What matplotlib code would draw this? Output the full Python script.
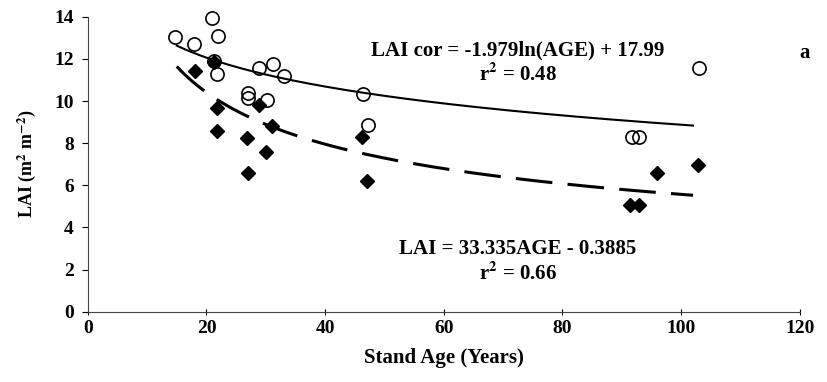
import numpy as np
import matplotlib
matplotlib.use("Agg")
import matplotlib.pyplot as plt

# LAI corrected (open circles)
AGE_COR = [14.7, 17.9, 20.9, 21.9, 21.8, 21.3, 27.0, 27.0, 28.8, 30.2,
           31.2, 33.1, 46.4, 47.3, 91.7, 92.9, 103.0]
LAI_COR = [13.05, 12.7, 13.95, 13.1, 11.3, 11.9, 10.38, 10.14, 11.57, 10.05,
           11.76, 11.19, 10.33, 8.86, 8.29, 8.29, 11.57]

# LAI (filled diamonds)
AGE_LAI = [18.0, 21.2, 21.8, 21.8, 26.8, 27.0, 28.8, 30.0, 31.0, 46.2,
           47.1, 91.4, 92.9, 95.9, 102.9]
LAI_VAL = [11.43, 11.86, 9.67, 8.57, 8.24, 6.57, 9.8, 7.57, 8.8, 8.28,
           6.19, 5.05, 5.05, 6.57, 6.95]

# trend line coefficients as printed on the chart
LOG_SLOPE, LOG_INTERCEPT = -1.979, 17.99
POW_COEF, POW_EXP = 33.335, -0.3885
FIT_RANGE = (15, 102)

X_TICKS = [0, 20, 40, 60, 80, 100, 120]
Y_TICKS = [0, 2, 4, 6, 8, 10, 12, 14]

plt.rcParams["font.family"] = ["Liberation Serif", "DejaVu Serif"]
plt.rcParams["font.weight"] = "bold"
plt.rcParams["mathtext.fontset"] = "stix"

fig = plt.figure(figsize=(8.28, 3.82), dpi=100)
ax = fig.add_axes([0.106, 0.184, 0.86, 0.772])

age = np.linspace(FIT_RANGE[0], FIT_RANGE[1], 200)
ax.plot(age, LOG_SLOPE * np.log(age) + LOG_INTERCEPT,
        color="black", linewidth=1.5)
ax.plot(age, POW_COEF * age ** POW_EXP,
        color="black", linewidth=2.2, dashes=(12, 5))

ax.plot(AGE_LAI, LAI_VAL, linestyle="none", marker="D",
        markersize=7, color="black", clip_on=False)
ax.plot(AGE_COR, LAI_COR, linestyle="none", marker="o",
        markersize=9.5, markerfacecolor="none",
        markeredgecolor="black", markeredgewidth=1.2, clip_on=False)

eq_size = 15
ax.text(72.5, 12.4, "LAI cor = -1.979ln(AGE) + 17.99",
        ha="center", va="center", fontsize=eq_size, fontweight="bold")
ax.text(72.5, 11.25, r"r$^{\mathbf{2}}$ = 0.48",
        ha="center", va="center", fontsize=eq_size, fontweight="bold")
ax.text(72.5, 3.0, "LAI = 33.335AGE - 0.3885",
        ha="center", va="center", fontsize=eq_size, fontweight="bold")
ax.text(72.5, 1.8, r"r$^{\mathbf{2}}$ = 0.66",
        ha="center", va="center", fontsize=eq_size, fontweight="bold")
ax.text(120.8, 12.3, "a", ha="center", va="center",
        fontsize=eq_size, fontweight="bold")

ax.set_xlim(0, 120)
ax.set_ylim(0, 14)
ax.set_xticks(X_TICKS)
ax.set_yticks(Y_TICKS)
ax.tick_params(axis="both", labelsize=14, length=4, width=0.8)
ax.tick_params(axis="x", direction="inout", pad=4)
ax.tick_params(axis="y", direction="out", pad=6)
for spine in ("top", "right"):
    ax.spines[spine].set_visible(False)
for spine in ("left", "bottom"):
    ax.spines[spine].set_linewidth(0.8)
    ax.spines[spine].set_color("#444444")

ax.set_xlabel("Stand Age (Years)", fontsize=15, fontweight="bold",
              labelpad=8)
ax.set_ylabel(r"LAI (m$^{\mathbf{2}}$ m$^{\mathbf{-2}}$)", fontsize=13,
              fontweight="bold", labelpad=12)

fig.savefig("out.png", dpi=100)
